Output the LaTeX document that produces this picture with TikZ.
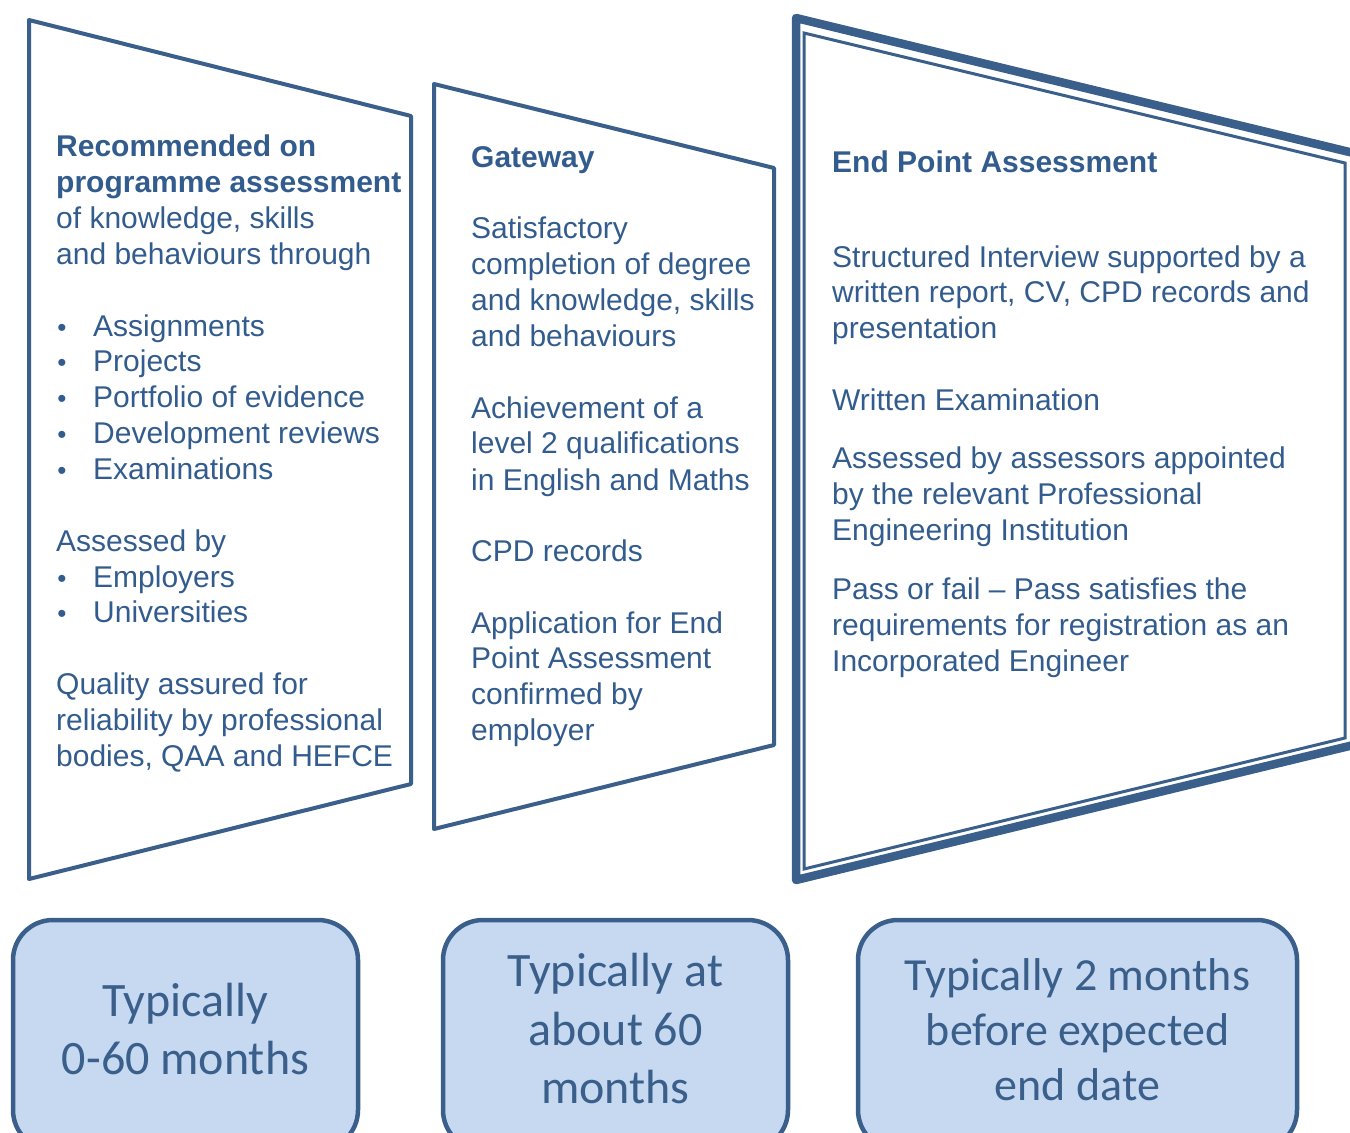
\documentclass[tikz,border=0pt]{standalone}
\usepackage{fontspec}
\setmainfont{Liberation Sans}
\newfontfamily\calfont{Carlito}
\definecolor{lineblue}{HTML}{3A5F8B}
\definecolor{textblue}{HTML}{335C8E}
\definecolor{boxfill}{HTML}{C6D9F0}
\tikzset{
  panel/.style={draw=lineblue, line width=4pt, line join=round},
  ptxt/.style={anchor=base west, inner sep=0pt, text=textblue, font=\fontsize{30}{36}\selectfont},
  ptxtb/.style={ptxt, font=\fontsize{30}{36}\selectfont\bfseries},
  bul/.style={anchor=base, inner sep=0pt, text=textblue, font=\fontsize{26}{36}\selectfont},
  tbox/.style={draw=lineblue, fill=boxfill, line width=4.5pt, rounded corners=40pt, inner sep=0pt},
  btxt/.style={anchor=base, inner sep=0pt, text=lineblue, font=\calfont\fontsize{48}{58}\selectfont},
  btxts/.style={btxt, font=\calfont\fontsize{46}{55}\selectfont}
}
\begin{document}
\begin{tikzpicture}[x=1pt,y=-1pt]
\useasboundingbox (0,0) rectangle (1350,1133);
\begin{scope}
\clip (0,0) rectangle (1350,1133);
% panels
\draw[panel] (29,20) -- (411,116) -- (411,784) -- (29,879) -- cycle;
\draw[panel] (434,84) -- (774,168) -- (774,745) -- (434,829) -- cycle;
\draw[draw=lineblue, line width=8.5pt, line join=round] (796,18) -- (1370,157) -- (1370,741) -- (796,880) -- cycle;
\draw[draw=lineblue, line width=3pt, line join=miter] (804,33) -- (1345,163) -- (1345,738) -- (804,869) -- cycle;
% bottom boxes
\node[tbox, minimum width=345pt, minimum height=230pt] (box1) at (185.5,1035) {};
\node[tbox, minimum width=345pt, minimum height=230pt] (box2) at (615.5,1035) {};
\node[tbox, minimum width=439pt, minimum height=230pt] (box3) at (1077.5,1035) {};
\end{scope}
% panel 1 text
\node[ptxtb] (p1a) at (56,156) {Recommended on};
\node[ptxtb] (p1b) at (56,192) {programme assessment};
\node[ptxt] (p1c) at (56,228) {of knowledge, skills};
\node[ptxt] (p1d) at (56,264) {and behaviours through};
\node[bul] (p1e0) at (62,336) {•};
\node[ptxt] (p1e) at (93,336) {Assignments};
\node[bul] (p1f0) at (62,371) {•};
\node[ptxt] (p1f) at (93,371) {Projects};
\node[bul] (p1g0) at (62,407) {•};
\node[ptxt] (p1g) at (93,407) {Portfolio of evidence};
\node[bul] (p1h0) at (62,443) {•};
\node[ptxt] (p1h) at (93,443) {Development reviews};
\node[bul] (p1i0) at (62,479) {•};
\node[ptxt] (p1i) at (93,479) {Examinations};
\node[ptxt] (p1j) at (56,551) {Assessed by};
\node[bul] (p1k0) at (62,587) {•};
\node[ptxt] (p1k) at (93,587) {Employers};
\node[bul] (p1l0) at (62,622) {•};
\node[ptxt] (p1l) at (93,622) {Universities};
\node[ptxt] (p1m) at (56,694) {Quality assured for};
\node[ptxt] (p1n) at (56,730) {reliability by professional};
\node[ptxt] (p1o) at (56,766) {bodies, QAA and HEFCE};
% panel 2 text
\node[ptxtb] (p2a) at (471,167) {Gateway};
\node[ptxt] (p2b) at (471,238) {Satisfactory};
\node[ptxt] (p2c) at (471,274) {completion of degree};
\node[ptxt] (p2d) at (471,310) {and knowledge, skills};
\node[ptxt] (p2e) at (471,346) {and behaviours};
\node[ptxt] (p2f) at (471,418) {Achievement of a};
\node[ptxt] (p2g) at (471,453) {level 2 qualifications};
\node[ptxt] (p2h) at (471,490) {in English and Maths};
\node[ptxt] (p2i) at (471,561) {CPD records};
\node[ptxt] (p2j) at (471,633) {Application for End};
\node[ptxt] (p2k) at (471,668) {Point Assessment};
\node[ptxt] (p2l) at (471,704) {confirmed by};
\node[ptxt] (p2m) at (471,740) {employer};
% panel 3 text
\node[ptxtb] (p3a) at (832,172) {End Point Assessment};
\node[ptxt] (p3b) at (832,267) {Structured Interview supported by a};
\node[ptxt] (p3c) at (832,302) {written report, CV, CPD records and};
\node[ptxt] (p3d) at (832,338) {presentation};
\node[ptxt] (p3e) at (832,410) {Written Examination};
\node[ptxt] (p3f) at (832,468) {Assessed by assessors appointed};
\node[ptxt] (p3g) at (832,504) {by the relevant Professional};
\node[ptxt] (p3h) at (832,540) {Engineering Institution};
\node[ptxt] (p3i) at (832,599) {Pass or fail – Pass satisfies the};
\node[ptxt] (p3j) at (832,635) {requirements for registration as an};
\node[ptxt] (p3k) at (832,671) {Incorporated Engineer};
% box texts
\node[btxt] (b1a) at (185.5,1016) {Typically};
\node[btxt] (b1b) at (185.5,1074) {0-60 months};
\node[btxt] (b2a) at (615.5,986) {Typically at};
\node[btxt] (b2b) at (615.5,1045) {about 60};
\node[btxt] (b2c) at (615.5,1103) {months};
\node[btxts] (b3a) at (1077.5,990) {Typically 2 months};
\node[btxts] (b3b) at (1077.5,1045) {before expected};
\node[btxts] (b3c) at (1077.5,1100) {end date};
\end{tikzpicture}
\end{document}
